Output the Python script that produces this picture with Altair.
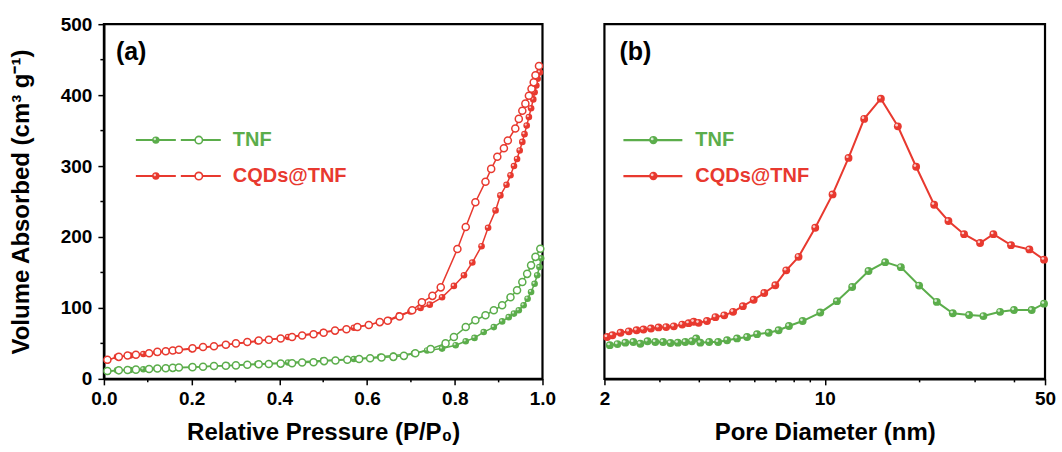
import altair as alt
import pandas as pd

# ---------------- (a) N2 adsorption / desorption isotherms ----------------
tnf_ads_p = [0.008, 0.03, 0.06, 0.09, 0.12, 0.16, 0.20, 0.28, 0.35, 0.42, 0.50, 0.57, 0.63, 0.66,
             0.707, 0.737, 0.771, 0.802, 0.825, 0.845, 0.866, 0.889, 0.908, 0.923, 0.935, 0.946,
             0.957, 0.966, 0.974, 0.982, 0.988, 0.993, 0.997]
tnf_ads_v = [10, 12, 12.5, 13.5, 14.5, 15.5, 16.5, 19, 21, 23, 26, 28, 31, 33,
             35.6, 40, 42.7, 47.4, 53, 57.7, 66, 73, 81, 87, 92, 96.7,
             103.7, 113, 122.5, 134, 146, 157.7, 170]
tnf_des_p = [0.008, 0.034, 0.054, 0.073, 0.103, 0.122, 0.141, 0.157, 0.171, 0.202, 0.226, 0.251,
             0.278, 0.301, 0.327, 0.353, 0.376, 0.403, 0.429, 0.452, 0.478, 0.502, 0.528, 0.555,
             0.582, 0.607, 0.633, 0.660, 0.684, 0.710, 0.745, 0.779, 0.798, 0.825, 0.847, 0.870,
             0.889, 0.908, 0.927, 0.942, 0.954, 0.965, 0.974, 0.984, 0.995]
tnf_des_v = [11, 12, 12.5, 13, 14, 14.5, 15, 15.5, 16, 16.5, 17, 18,
             18.5, 19, 20, 20.5, 21, 21.5, 22, 23, 23.5, 25, 26, 27,
             28, 29, 30, 31, 32.4, 36, 42, 50, 59, 73, 82.6, 89.7,
             96.7, 103.7, 115, 125, 136.6, 148, 160, 172, 183.5]

cqd_ads_p = [0.008, 0.03, 0.06, 0.09, 0.12, 0.16, 0.20, 0.28, 0.35, 0.42, 0.50, 0.57, 0.63, 0.65,
             0.673, 0.699, 0.722, 0.743, 0.771, 0.798, 0.821, 0.840, 0.861, 0.876, 0.893, 0.904,
             0.918, 0.927, 0.935, 0.942, 0.948, 0.954, 0.959, 0.964, 0.969, 0.974, 0.979, 0.982,
             0.986, 0.989, 0.994]
cqd_ads_v = [26, 31, 33, 35, 37, 40, 42, 48, 53, 59, 66, 72, 80, 83,
             89.6, 95, 100, 104.6, 115, 131, 146, 164, 187, 213, 237.5, 258.6,
             273.6, 287, 300, 310, 322, 334, 345, 357, 369, 381.5, 394, 404,
             413.5, 423, 432]
cqd_des_p = [0.008, 0.034, 0.054, 0.073, 0.103, 0.122, 0.141, 0.157, 0.171, 0.202, 0.226, 0.251,
             0.278, 0.301, 0.327, 0.353, 0.376, 0.403, 0.429, 0.452, 0.478, 0.501, 0.527, 0.553,
             0.578, 0.604, 0.629, 0.647, 0.674, 0.703, 0.725, 0.749, 0.768, 0.806, 0.825, 0.847,
             0.870, 0.883, 0.897, 0.912, 0.921, 0.938, 0.946, 0.954, 0.961, 0.969, 0.975, 0.980,
             0.984, 0.992]
cqd_des_v = [27, 31, 33, 34, 36, 38, 39, 40, 41, 43, 45, 46,
             48, 50, 52, 54, 55, 57, 59, 61, 63, 65, 68, 70,
             73, 76, 80, 82, 88, 96.7, 108, 117, 129, 183, 214, 249,
             278, 296, 313, 325, 336, 353, 366.5, 378, 388, 399, 409, 418,
             428, 441]

# ---------------- (b) pore size distributions ----------------
tnf_psd_d = [2.08, 2.20, 2.33, 2.47, 2.60, 2.74, 2.90, 3.07, 3.24, 3.42, 3.61, 3.79, 3.91, 4.03,
             4.30, 4.59, 4.90, 5.27, 5.67, 6.10, 6.64, 7.14, 7.70, 8.51, 9.68, 10.93, 12.22,
             13.77, 15.55, 17.44, 19.93, 22.68, 25.49, 28.71, 31.88, 36.0, 39.87, 45.37, 49.64]
tnf_psd_v = [0.095, 0.098, 0.102, 0.104, 0.099, 0.106, 0.104, 0.104, 0.101, 0.102, 0.104, 0.106,
             0.114, 0.102, 0.104, 0.104, 0.109, 0.114, 0.118, 0.126, 0.130, 0.137, 0.149, 0.163,
             0.187, 0.219, 0.259, 0.304, 0.329, 0.315, 0.263, 0.217, 0.185, 0.180, 0.177, 0.189,
             0.194, 0.194, 0.212]
cqd_psd_d = [2.04, 2.12, 2.25, 2.39, 2.53, 2.66, 2.81, 2.97, 3.14, 3.32, 3.53, 3.70, 3.84, 3.98,
             4.23, 4.50, 4.80, 5.12, 5.50, 5.95, 6.43, 6.97, 7.55, 8.26, 9.33, 10.59, 11.90,
             13.34, 15.07, 17.06, 19.50, 22.24, 24.69, 27.68, 31.11, 34.29, 39.01, 44.60, 49.64]
cqd_psd_v = [0.118, 0.123, 0.130, 0.134, 0.137, 0.139, 0.142, 0.145, 0.146, 0.148, 0.153, 0.157,
             0.161, 0.158, 0.163, 0.174, 0.179, 0.189, 0.205, 0.223, 0.242, 0.264, 0.306, 0.344,
             0.426, 0.520, 0.623, 0.733, 0.790, 0.712, 0.598, 0.491, 0.445, 0.408, 0.383, 0.408,
             0.377, 0.365, 0.336]

samples = ["TNF", "CQDs@TNF"]
colors = ["#5BAD4B", "#E8392F"]

p_major = [0.0, 0.2, 0.4, 0.6, 0.8, 1.0]
p_minor = [0.1, 0.3, 0.5, 0.7, 0.9]
v_major = [0, 100, 200, 300, 400, 500]
v_minor = [50, 150, 250, 350, 450]
d_major = [2, 10, 50]
d_minor = [3, 4, 5, 6, 7, 8, 9, 20, 30, 40]

FONT = "Liberation Sans"
W_A, W_B, H = 439, 441, 355


def branch(sample, name, xs, ys):
    return pd.DataFrame({"x": xs, "y": ys, "sample": sample,
                         "series": f"{sample}-{name}", "branch": name,
                         "i": list(range(len(xs)))})


iso = pd.concat([
    branch("TNF", "ads", tnf_ads_p, tnf_ads_v),
    branch("TNF", "des", tnf_des_p, tnf_des_v),
    branch("CQDs@TNF", "ads", cqd_ads_p, cqd_ads_v),
    branch("CQDs@TNF", "des", cqd_des_p, cqd_des_v),
], ignore_index=True)
ads = iso[iso.branch == "ads"]
des = iso[iso.branch == "des"]

psd = pd.concat([
    branch("TNF", "psd", tnf_psd_d, tnf_psd_v),
    branch("CQDs@TNF", "psd", cqd_psd_d, cqd_psd_v),
], ignore_index=True)

cscale = alt.Scale(domain=samples, range=colors)
color = alt.Color("sample:N", scale=cscale, legend=None)
stroke = alt.Stroke("sample:N", scale=cscale, legend=None)

# ---------- panel (a) ----------
xa_scale = alt.Scale(domain=[0, 1], nice=False, zero=False)
ya_scale = alt.Scale(domain=[0, 500], nice=False)
xa_axis = alt.Axis(values=p_major, format=".1f", title="Relative Pressure (P/P₀)",
                   labelFlush=False, labelPadding=5, titlePadding=12, grid=False)
ya_axis = alt.Axis(values=v_major, format="d", title="Volume Absorbed (cm³ g⁻¹)",
                   labelFlush=False, labelPadding=6, titlePadding=27, grid=False)
xa = alt.X("x:Q", scale=xa_scale, axis=xa_axis)
ya = alt.Y("y:Q", scale=ya_scale, axis=ya_axis)

a_lines = alt.Chart(iso).mark_line(strokeWidth=1.5).encode(
    x=xa, y=ya, color=color, detail="series:N", order="i:Q")
a_filled = alt.Chart(ads).mark_circle(size=44, opacity=1).encode(x=xa, y=ya, color=color)
a_shine = alt.Chart(ads).mark_circle(size=5, color="white", opacity=0.7,
                                     xOffset=-1, yOffset=-1).encode(x=xa, y=ya)
a_open = alt.Chart(des).mark_point(shape="circle", size=50, fill="white", fillOpacity=1,
                                   strokeWidth=1.5, opacity=1).encode(x=xa, y=ya, stroke=stroke)

a_xminor = alt.Chart(pd.DataFrame({"x": p_minor})).mark_rule(color="black", strokeWidth=1.5).encode(
    x=alt.X("x:Q", scale=xa_scale, axis=xa_axis), y=alt.value(H), y2=alt.value(H + 3.5))
a_yminor = alt.Chart(pd.DataFrame({"y": v_minor})).mark_rule(color="black", strokeWidth=1.5).encode(
    y=alt.Y("y:Q", scale=ya_scale, axis=ya_axis), x=alt.value(0), x2=alt.value(-3.5))

a_tag = alt.Chart(pd.DataFrame({"t": ["(a)"]})).mark_text(
    align="left", baseline="middle", font=FONT, fontSize=25, fontWeight="bold", color="black"
).encode(x=alt.value(12), y=alt.value(28), text="t:N")


def iso_legend(label, col, row_y):
    d = pd.DataFrame({"t": [label]})
    base = alt.Chart(d)
    return [
        base.mark_rule(color=col, strokeWidth=2).encode(x=alt.value(32), x2=alt.value(72), y=alt.value(row_y)),
        base.mark_rule(color=col, strokeWidth=2).encode(x=alt.value(77), x2=alt.value(117), y=alt.value(row_y)),
        base.mark_circle(color=col, size=55, opacity=1).encode(x=alt.value(52), y=alt.value(row_y)),
        base.mark_circle(color="white", size=6, opacity=0.7, xOffset=-1, yOffset=-1).encode(
            x=alt.value(52), y=alt.value(row_y)),
        base.mark_point(shape="circle", size=55, fill="white", fillOpacity=1, color=col,
                        strokeWidth=1.6, opacity=1).encode(x=alt.value(95), y=alt.value(row_y)),
        base.mark_text(align="left", baseline="middle", font=FONT, fontSize=20,
                       fontWeight="bold", color=col).encode(
            x=alt.value(129), y=alt.value(row_y), text="t:N"),
    ]


panel_a = alt.layer(
    a_lines, a_filled, a_shine, a_open, a_xminor, a_yminor, a_tag,
    *iso_legend("TNF", colors[0], 116),
    *iso_legend("CQDs@TNF", colors[1], 152),
).properties(width=W_A, height=H)

# ---------- panel (b) ----------
xb_scale = alt.Scale(type="log", domain=[2, 50], nice=False)
yb_scale = alt.Scale(domain=[0, 1], nice=False)
xb_axis = alt.Axis(values=d_major, format="d", title="Pore Diameter (nm)",
                   labelFlush=False, labelPadding=5, titlePadding=12, grid=False)
xb = alt.X("x:Q", scale=xb_scale, axis=xb_axis)
yb = alt.Y("y:Q", scale=yb_scale, axis=None)

b_lines = alt.Chart(psd).mark_line(strokeWidth=2).encode(
    x=xb, y=yb, color=color, detail="series:N", order="i:Q")
b_points = alt.Chart(psd).mark_circle(size=62, opacity=1).encode(x=xb, y=yb, color=color)
b_shine = alt.Chart(psd).mark_circle(size=7, color="white", opacity=0.75,
                                     xOffset=-1.2, yOffset=-1.2).encode(x=xb, y=yb)
b_xminor = alt.Chart(pd.DataFrame({"x": d_minor})).mark_rule(color="black", strokeWidth=1.5).encode(
    x=alt.X("x:Q", scale=xb_scale, axis=xb_axis), y=alt.value(H), y2=alt.value(H + 3.5))

b_tag = alt.Chart(pd.DataFrame({"t": ["(b)"]})).mark_text(
    align="left", baseline="middle", font=FONT, fontSize=25, fontWeight="bold", color="black"
).encode(x=alt.value(15), y=alt.value(28), text="t:N")


def psd_legend(label, col, row_y):
    d = pd.DataFrame({"t": [label]})
    base = alt.Chart(d)
    return [
        base.mark_rule(color=col, strokeWidth=2.2).encode(x=alt.value(19), x2=alt.value(78), y=alt.value(row_y)),
        base.mark_circle(color=col, size=70, opacity=1).encode(x=alt.value(49), y=alt.value(row_y)),
        base.mark_circle(color="white", size=8, opacity=0.75, xOffset=-1.2, yOffset=-1.2).encode(
            x=alt.value(49), y=alt.value(row_y)),
        base.mark_text(align="left", baseline="middle", font=FONT, fontSize=20,
                       fontWeight="bold", color=col).encode(
            x=alt.value(91), y=alt.value(row_y), text="t:N"),
    ]


panel_b = alt.layer(
    b_lines, b_points, b_shine, b_xminor, b_tag,
    *psd_legend("TNF", colors[0], 116),
    *psd_legend("CQDs@TNF", colors[1], 152),
).properties(width=W_B, height=H)

chart = alt.hconcat(panel_a, panel_b, spacing=62, bounds="flush").properties(
    padding={"left": 8, "top": 13, "right": 5, "bottom": 3},
    background="white",
).configure_view(
    stroke="black", strokeWidth=2.2
).configure_axis(
    domainColor="black", domainWidth=2.2, tickColor="black", tickWidth=1.5, tickSize=6,
    labelFont=FONT, labelFontSize=19, labelFontWeight="bold", labelColor="black",
    titleFont=FONT, titleFontSize=24, titleFontWeight="bold", titleColor="black",
)

chart.save("out.html", embed_options={"renderer": "svg", "actions": False})
